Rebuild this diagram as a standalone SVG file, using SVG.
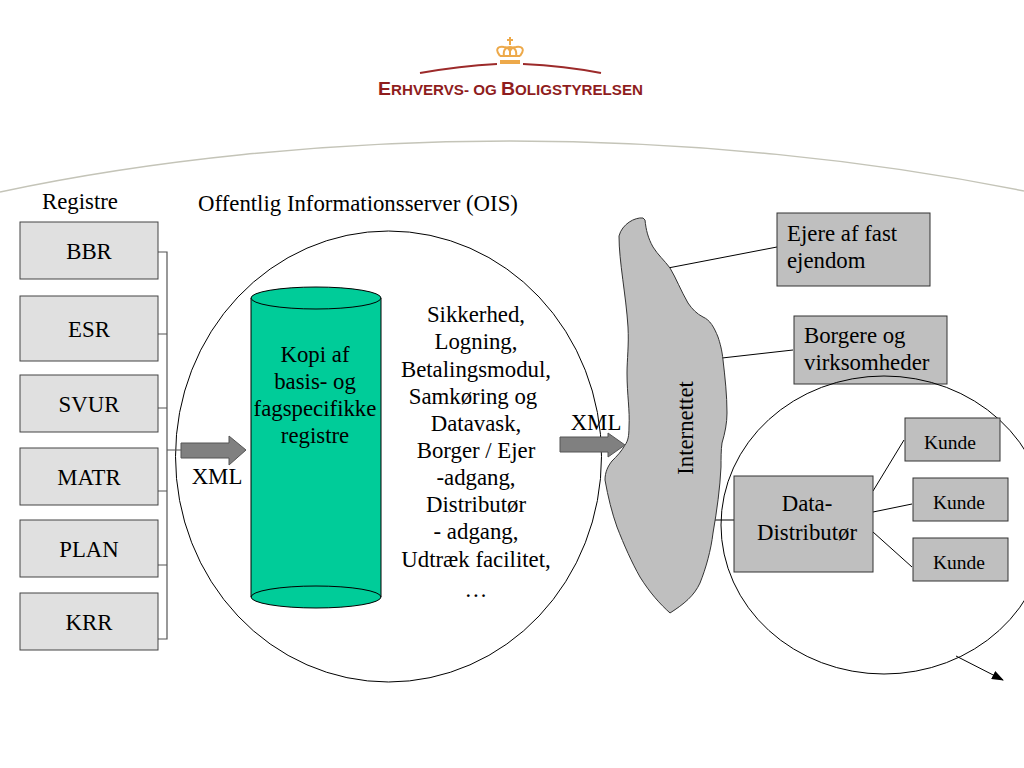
<svg xmlns="http://www.w3.org/2000/svg" width="1024" height="768" viewBox="0 0 1024 768">
<style>
text{font-family:"Liberation Serif","Times New Roman",serif;fill:#000;text-anchor:middle;font-size:22.800px}
.reg rect{fill:#e0e0e0;stroke:#444;stroke-width:1}
.dark{fill:#bfbfbf;stroke:#333;stroke-width:1}
.ln{fill:none;stroke:#000;stroke-width:1}
.br{fill:none;stroke:#555;stroke-width:1.200}
.arr{fill:#808080;stroke:#555;stroke-width:1}
.crown{fill:none;stroke:#eda94a;stroke-width:2}
.st{text-anchor:start}
.k{font-size:19.500px}
</style>
<defs>
<marker id="tri" markerWidth="12" markerHeight="9" refX="11" refY="4.500" orient="auto" markerUnits="userSpaceOnUse"><path d="M0 0L12 4.500L0 9Z" fill="#000"/></marker>
</defs>
<rect width="1024" height="768" fill="#fff"/>
<g id="logo">
<path d="M420 73Q460 66 497 64" fill="none" stroke="#9c2a2a" stroke-width="2"/>
<path d="M523 64Q565 66 601 73" fill="none" stroke="#9c2a2a" stroke-width="2"/>
<path class="crown" d="M500 56C495 50 497 46 504 47C507 47 509 49 510 51C511 49 513 47 516 47C523 46 525 50 520 56"/>
<path class="crown" d="M504 56C503 51 505 47 510 47C515 47 517 51 516 56M510 47V56"/>
<path d="M510 37V45M507 40H513" stroke="#eda94a" stroke-width="2" fill="none"/>
<rect x="500" y="55" width="20" height="2" fill="#eda94a"/>
<rect x="500" y="60" width="20" height="4" fill="#eda94a"/>
<text x="378" y="95" textLength="265" lengthAdjust="spacingAndGlyphs" style="font-family:'Liberation Sans',Arial,sans-serif;font-weight:700;fill:#8f1d1d;text-anchor:start;font-size:14px"><tspan font-size="18">E</tspan>RHVERVS- OG <tspan font-size="18">B</tspan>OLIGSTYRELSEN</text>
</g>
<path id="arc" d="M0 192C150 160 330 141 510 141C690 141 870 160 1024 191" fill="none" stroke="#c4c4b8" stroke-width="1.500"/>
<text x="80" y="209">Registre</text>
<text x="358" y="211">Offentlig Informationsserver (OIS)</text>
<ellipse id="ois" cx="388.500" cy="456.500" rx="213" ry="225.500" fill="#fff" stroke="#000" stroke-width="1"/>
<g id="connectors">
<path class="br" d="M158 252H167V639H158M158 334H167M158 408H167M158 491H167M158 565H167M167 450H181"/>
<path class="ln" d="M668 268L777 247M722 358L793 350M714 520H734M873 491L904 440M873 512L912 504M873 532L912 567"/>
<path d="M956 656L1003 680" fill="none" stroke="#000" stroke-width="1" marker-end="url(#tri)"/>
</g>
<g id="registre" class="reg">
<g id="bbr"><rect x="20" y="222" width="138" height="57"/><text x="89" y="259">BBR</text></g>
<g id="esr"><rect x="20" y="296" width="138" height="65"/><text x="89" y="337">ESR</text></g>
<g id="svur"><rect x="20" y="375" width="138" height="57"/><text x="89" y="412">SVUR</text></g>
<g id="matr"><rect x="20" y="448" width="138" height="57"/><text x="89" y="485">MATR</text></g>
<g id="plan"><rect x="20" y="520" width="138" height="57"/><text x="89" y="557">PLAN</text></g>
<g id="krr"><rect x="20" y="593" width="138" height="57"/><text x="89" y="630">KRR</text></g>
</g>
<g id="xml1"><path class="arr" d="M181 443H229V436L246 450L229 465V458H181Z"/><text x="217" y="484">XML</text></g>
<g id="kopi">
<path d="M251 298V597A65 11 0 0 0 381 597V298Z" fill="#00cc99" stroke="#000"/>
<ellipse cx="316" cy="298" rx="65" ry="11" fill="#00cc99" stroke="#000"/>
<path d="M251 597A65 11 0 0 1 381 597" fill="none" stroke="#000"/>
<text><tspan x="315" y="362">Kopi af</tspan><tspan x="315" y="389">basis- og</tspan><tspan x="315" y="416">fagspecifikke</tspan><tspan x="315" y="443">registre</tspan></text>
</g>
<g id="funktioner"><text><tspan x="476" y="322">Sikkerhed,</tspan><tspan x="476" y="349">Logning,</tspan><tspan x="476" y="377">Betalingsmodul,</tspan><tspan x="473" y="404">Samkøring og</tspan><tspan x="476" y="431">Datavask,</tspan><tspan x="476" y="458">Borger / Ejer</tspan><tspan x="476" y="485">-adgang,</tspan><tspan x="476" y="512">Distributør</tspan><tspan x="476" y="539">- adgang,</tspan><tspan x="476" y="567">Udtræk facilitet,</tspan><tspan x="476" y="597">…</tspan></text></g>
<g id="internettet">
<path class="dark" d="M643 218C635 217 622 224 619 236C619 262 626 295 628 327C629 345 627 360 627 373C627 395 630 410 629 427C629 436 628 441 625 445C621 452 617 456 612 461C608 466 605 472 605 480C608 497 612 513 617 527C624 545 632 563 640 577C650 593 660 604 670 613C684 604 694 596 700 583C706 568 711 550 713 533C717 510 720 488 721 467C721 458 721 450 722 443C725 433 727 423 727 413C727 395 725 377 723 360C722 350 720 343 718 337C714 327 710 320 703 317C697 314 692 309 688 303C681 291 676 278 670 268C664 260 658 255 653 247C648 238 646 230 645 220Z"/>
<text transform="translate(693 428) rotate(-90)">Internettet</text>
</g>
<g id="xml2"><path class="arr" d="M560 437H608V433L625 445L608 457V452H560Z"/><text x="596" y="430">XML</text></g>
<g id="ejere"><rect class="dark" x="777" y="213" width="153" height="73"/><text class="st"><tspan x="787" y="241">Ejere af fast</tspan><tspan x="787" y="268">ejendom</tspan></text></g>
<g id="borgere"><rect class="dark" x="794" y="316" width="153" height="68"/><text class="st"><tspan x="804" y="343">Borgere og</tspan><tspan x="804" y="370">virksomheder</tspan></text></g>
<ellipse id="distkreds" cx="884" cy="525" rx="163" ry="149" fill="none" stroke="#000"/>
<g id="distributor"><rect class="dark" x="734" y="476" width="139" height="96"/><text><tspan x="807" y="511">Data-</tspan><tspan x="807" y="540">Distributør</tspan></text></g>
<g id="kunde1"><rect class="dark" x="905" y="418" width="95" height="43"/><text class="k" x="950" y="449">Kunde</text></g>
<g id="kunde2"><rect class="dark" x="913" y="478" width="95" height="43"/><text class="k" x="959" y="509">Kunde</text></g>
<g id="kunde3"><rect class="dark" x="913" y="538" width="95" height="43"/><text class="k" x="959" y="569">Kunde</text></g>
</svg>
